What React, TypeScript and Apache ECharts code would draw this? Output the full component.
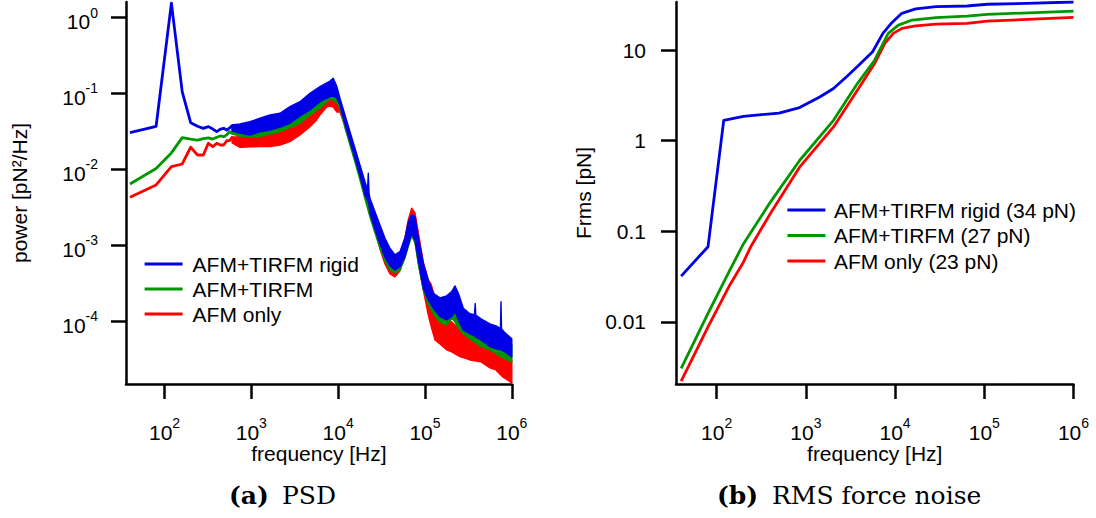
import { useEffect, useRef } from 'react';
import * as echarts from 'echarts';

// ---------- (a) power spectral density ----------
// Low-frequency bins (40 Hz spacing), drawn as plain lines
const PSD_LOW_FREQ = [40, 80, 120, 160, 200, 240, 280, 320, 360, 400, 440, 480, 520, 560, 600, 640];
const PSD_LOW_RIGID = [0.0305, 0.037, 1.55, 0.105, 0.0413, 0.037, 0.0348, 0.0366, 0.034, 0.0314, 0.034, 0.0348, 0.0331, 0.035, 0.0375, 0.0385];
const PSD_LOW_TIRFM = [0.00645, 0.0103, 0.0165, 0.0262, 0.0251, 0.0244, 0.0255, 0.026, 0.0251, 0.0265, 0.0276, 0.027, 0.0285, 0.0314, 0.03, 0.0294];
const PSD_LOW_AFM = [0.0043, 0.00625, 0.0109, 0.0118, 0.0196, 0.0155, 0.0155, 0.0221, 0.02, 0.0221, 0.021, 0.021, 0.0239, 0.0239, 0.0265, 0.025];

// Dense noisy part above ~600 Hz: upper / lower envelope of each spectrum
const PSD_BAND_RIGID_FREQ = [600, 740, 960, 1260, 1640, 2140, 2780, 3630, 4730, 6170, 8050, 8780, 9610, 10490, 11980, 13680, 15610, 17830, 20360, 21800, 22230, 22700, 23250, 26550, 30310, 34610, 39520, 45110, 51520, 58830, 64210, 70290, 76690, 83720, 95590, 109100, 124600, 148900, 177800, 203000, 221600, 241900, 276200, 329900, 372000, 378700, 385000, 441800, 560900, 657700, 740000, 750800, 761000, 835000, 1000000];
const PSD_BAND_RIGID_HIGH = [0.0385, 0.0397, 0.0425, 0.0472, 0.0522, 0.0549, 0.067, 0.078, 0.1006, 0.1229, 0.146, 0.1585, 0.1256, 0.0865, 0.0522, 0.0314, 0.019, 0.01146, 0.00691, 0.0054, 0.00891, 0.0048, 0.00418, 0.00278, 0.00186, 0.00124, 0.000919, 0.00075, 0.000829, 0.00126, 0.00204, 0.00252, 0.00239, 0.0013, 0.000583, 0.000352, 0.000235, 0.000204, 0.000217, 0.000247, 0.000293, 0.000237, 0.000149, 0.000126, 0.000123, 0.000172, 0.000121, 0.000108, 9.27e-5, 8.73e-5, 8.1e-5, 0.000182, 8.0e-5, 7.06e-5, 5.89e-5];
const PSD_BAND_RIGID_LOW = [0.0321, 0.0302, 0.0284, 0.0314, 0.0331, 0.0362, 0.0405, 0.0506, 0.0607, 0.078, 0.0908, 0.0927, 0.0873, 0.0706, 0.0397, 0.0237, 0.01417, 0.00831, 0.00462, 0.0039, 0.0037, 0.0034, 0.00268, 0.00163, 0.00105, 0.000706, 0.000537, 0.000476, 0.000526, 0.000712, 0.00102, 0.00145, 0.00118, 0.000645, 0.000276, 0.000192, 0.000149, 0.000116, 0.000105, 0.000116, 0.000135, 0.000105, 7.73e-5, 6.85e-5, 6.45e-5, 6.35e-5, 6.25e-5, 5.71e-5, 4.66e-5, 4.35e-5, 4.25e-5, 4.22e-5, 4.2e-5, 3.97e-5, 3.41e-5];

const PSD_BAND_TIRFM_FREQ = [600, 740, 960, 1260, 1640, 2140, 2780, 3630, 4730, 6170, 7370, 8050, 8780, 9610, 10490, 11980, 13680, 15610, 17830, 20360, 23250, 26550, 30310, 34610, 39520, 45110, 51520, 58830, 64210, 70290, 76690, 83720, 95590, 109100, 124600, 148900, 177800, 203000, 221600, 241900, 276200, 329900, 441800, 560900, 699000, 835000, 1000000];
const PSD_BAND_TIRFM_HIGH = [0.0341, 0.0341, 0.0352, 0.0374, 0.0409, 0.0448, 0.0522, 0.0607, 0.0773, 0.0985, 0.1079, 0.1112, 0.1146, 0.1015, 0.0821, 0.0491, 0.0293, 0.0175, 0.01046, 0.00625, 0.00385, 0.00252, 0.0017, 0.00115, 0.000847, 0.000706, 0.000773, 0.00115, 0.0018, 0.0023, 0.00217, 0.00118, 0.000537, 0.000321, 0.000217, 0.000181, 0.000175, 0.000192, 0.000204, 0.000165, 0.000111, 9.85e-5, 8.21e-5, 7.27e-5, 6.45e-5, 5.71e-5, 4.91e-5];
const PSD_BAND_TIRFM_LOW = [0.0293, 0.0276, 0.027, 0.027, 0.0293, 0.0314, 0.0352, 0.0405, 0.0522, 0.0639, 0.078, 0.0847, 0.0821, 0.075, 0.0645, 0.0352, 0.021, 0.01255, 0.00727, 0.00409, 0.00237, 0.00146, 0.000927, 0.000625, 0.000476, 0.000435, 0.000476, 0.000685, 0.000956, 0.00133, 0.00108, 0.000571, 0.00026, 0.00017, 0.000126, 9.64e-5, 8.99e-5, 0.00011, 9.85e-5, 8.21e-5, 6.85e-5, 5.89e-5, 4.66e-5, 4.22e-5, 3.62e-5, 3.21e-5, 2.93e-5];

const PSD_BAND_AFM_FREQ = [600, 740, 960, 1260, 1640, 2140, 2780, 3630, 4730, 5650, 6170, 7370, 8050, 8780, 9610, 10490, 11980, 13680, 15610, 17830, 20360, 23250, 26550, 30310, 34610, 39520, 45110, 51520, 58830, 64210, 70290, 76690, 83720, 95590, 109100, 117300, 130400, 148900, 177800, 203000, 221600, 253100, 329900, 441800, 560900, 656000, 787600, 1000000];
const PSD_BAND_AFM_HIGH = [0.0265, 0.027, 0.027, 0.0284, 0.0307, 0.0326, 0.0362, 0.0405, 0.0506, 0.0576, 0.0645, 0.0847, 0.0873, 0.0899, 0.0821, 0.0727, 0.0448, 0.0276, 0.0165, 0.00985, 0.00588, 0.00352, 0.00223, 0.00146, 0.000985, 0.000727, 0.000625, 0.000727, 0.00126, 0.00217, 0.00309, 0.00268, 0.0015, 0.000607, 0.000352, 0.000311, 0.00021, 0.000151, 0.000111, 9.85e-5, 8.99e-5, 7.73e-5, 6.45e-5, 5.37e-5, 4.62e-5, 4.22e-5, 3.62e-5, 3.11e-5];
const PSD_BAND_AFM_LOW = [0.0223, 0.0195, 0.0198, 0.02, 0.02, 0.021, 0.0232, 0.0284, 0.0366, 0.0448, 0.0522, 0.0664, 0.0685, 0.0664, 0.0571, 0.0571, 0.0374, 0.0223, 0.01334, 0.00796, 0.00462, 0.00268, 0.00155, 0.0009, 0.000571, 0.000422, 0.000385, 0.000462, 0.000727, 0.00111, 0.0015, 0.00118, 0.000588, 0.00026, 0.000122, 8.73e-5, 5.71e-5, 5.06e-5, 4.22e-5, 3.97e-5, 3.74e-5, 3.44e-5, 3.11e-5, 2.93e-5, 2.44e-5, 2.3e-5, 1.86e-5, 1.55e-5];

const PSD_FREQ_TICKS = [1e2, 1e3, 1e4, 1e5, 1e6];
const PSD_POWER_TICKS = [1e-4, 1e-3, 1e-2, 1e-1, 1];
const PSD_FREQ_RANGE = [36, 1e6];
const PSD_POWER_RANGE = [1.5e-5, 1.6];

// ---------- (b) cumulative RMS force noise ----------
const RMS_RIGID_FREQ = [40, 80, 120, 200, 500, 850, 1430, 2040, 2900, 4100, 5600, 7300, 9200, 11900, 17000, 28800, 64000, 108000, 300000, 1000000];
const RMS_RIGID = [0.032, 0.0676, 1.68, 1.86, 2.02, 2.32, 3.04, 3.77, 5.15, 7.11, 9.59, 15.3, 20.1, 25.5, 28.5, 30.2, 30.7, 32.1, 32.8, 34];
const RMS_TIRFM_FREQ = [40, 80, 140, 200, 400, 850, 2040, 3780, 5890, 8380, 10900, 15500, 28800, 64000, 108000, 1000000];
const RMS_TIRFM = [0.00306, 0.0124, 0.037, 0.073, 0.21, 0.605, 1.68, 4.27, 7.74, 15.3, 18.9, 21.5, 22.8, 23.8, 24.8, 27];
const RMS_AFM_FREQ = [40, 80, 140, 200, 240, 400, 850, 2040, 3780, 5890, 7670, 9550, 11940, 17000, 28800, 64000, 108000, 1000000];
const RMS_AFM = [0.00222, 0.0088, 0.0254, 0.0459, 0.067, 0.157, 0.51, 1.42, 3.6, 7.1, 11.9, 15.3, 17.4, 18.5, 19.4, 19.7, 20.9, 23];

const RMS_FREQ_TICKS = [1e2, 1e3, 1e4, 1e5, 1e6];
const RMS_FORCE_TICKS = [0.01, 0.1, 1, 10];
const RMS_FORCE_TICK_LABELS = ['0.01', '0.1', '1', '10'];
const RMS_FREQ_RANGE = [35, 1e6];
const RMS_FORCE_RANGE = [0.00206, 34];

const PSD_NAMES = ['AFM+TIRFM rigid', 'AFM+TIRFM', 'AFM only'];
const RMS_NAMES = ['AFM+TIRFM rigid (34 pN)', 'AFM+TIRFM (27 pN)', 'AFM only (23 pN)'];

const BLUE = '#0000e6';
const GREEN = '#009600';
const RED = '#ff0000';
const FONT = '"Liberation Sans", Arial, sans-serif';
const SERIF = '"DejaVu Serif", serif';

const lg = Math.log10;
const toLogPairs = (freq: number[], vals: number[]) => freq.map((f, i) => [lg(f), lg(vals[i])]);

const lineSeries = (name: string, freq: number[], vals: number[], color: string, axis: number, z: number) => ({
  type: 'line',
  name,
  xAxisIndex: axis,
  yAxisIndex: axis,
  z,
  data: toLogPairs(freq, vals),
  symbol: 'none',
  showSymbol: false,
  silent: true,
  lineStyle: { color, width: 2.8, join: 'round' },
  itemStyle: { color },
  emphasis: { disabled: true },
});

// Filled envelope between the upper and lower traces of a dense spectrum
const bandSeries = (name: string, freq: number[], high: number[], low: number[], color: string, z: number) => ({
  type: 'custom',
  name,
  xAxisIndex: 0,
  yAxisIndex: 0,
  z,
  silent: true,
  data: [[lg(freq[0]), lg(high[0])]],
  renderItem: (_params: any, api: any) => {
    const top = freq.map((f, i) => api.coord([lg(f), lg(high[i])]));
    const bottom = freq.map((f, i) => api.coord([lg(f), lg(low[i])])).reverse();
    return {
      type: 'polygon',
      shape: { points: top.concat(bottom) },
      style: { fill: color, stroke: color, lineWidth: 1.4, lineJoin: 'round' },
    };
  },
});

const axisLineStyle = { show: true, onZero: false, lineStyle: { color: '#000', width: 2.5 } };
const tickStyle = (values: number[]) => ({
  show: true,
  inside: false,
  length: 15,
  lineStyle: { color: '#000', width: 2.5 },
  customValues: values,
});
const powRich = {
  b: { fontSize: 21, lineHeight: 32, fontFamily: FONT, color: '#000' },
  s: { fontSize: 14, lineHeight: 14, verticalAlign: 'top', fontFamily: FONT, color: '#000' },
};
const powFormatter = (v: number) => `{b|10}{s|${Math.round(v)}}`;
const nameStyle = { fontSize: 21, color: '#000', fontFamily: FONT };

const legendBase = {
  orient: 'vertical',
  icon: 'rect',
  itemWidth: 38,
  itemHeight: 3,
  padding: 0,
  selectedMode: false,
};

const option = {
  animation: false,
  backgroundColor: '#fff',
  textStyle: { fontFamily: FONT, color: '#000' },
  grid: [
    { left: 126, top: 2, width: 385.8, height: 382, outerBoundsMode: 'none', containLabel: false },
    { left: 676, top: 2, width: 397.5, height: 382, outerBoundsMode: 'none', containLabel: false },
  ],
  xAxis: [
    {
      gridIndex: 0,
      type: 'value',
      min: lg(PSD_FREQ_RANGE[0]),
      max: lg(PSD_FREQ_RANGE[1]),
      axisLine: axisLineStyle,
      axisTick: tickStyle(PSD_FREQ_TICKS.map(lg)),
      axisLabel: { customValues: PSD_FREQ_TICKS.map(lg), formatter: powFormatter, rich: powRich, margin: 32 },
      splitLine: { show: false },
      name: 'frequency [Hz]',
      nameLocation: 'middle',
      nameGap: 59,
      nameMoveOverlap: false,
      nameTextStyle: nameStyle,
    },
    {
      gridIndex: 1,
      type: 'value',
      min: lg(RMS_FREQ_RANGE[0]),
      max: lg(RMS_FREQ_RANGE[1]),
      axisLine: axisLineStyle,
      axisTick: tickStyle(RMS_FREQ_TICKS.map(lg)),
      axisLabel: { customValues: RMS_FREQ_TICKS.map(lg), formatter: powFormatter, rich: powRich, margin: 32 },
      splitLine: { show: false },
      name: 'frequency [Hz]',
      nameLocation: 'middle',
      nameGap: 59,
      nameMoveOverlap: false,
      nameTextStyle: nameStyle,
    },
  ],
  yAxis: [
    {
      gridIndex: 0,
      type: 'value',
      min: lg(PSD_POWER_RANGE[0]),
      max: lg(PSD_POWER_RANGE[1]),
      axisLine: axisLineStyle,
      axisTick: tickStyle(PSD_POWER_TICKS.map(lg)),
      axisLabel: {
        customValues: PSD_POWER_TICKS.map(lg),
        formatter: powFormatter,
        rich: powRich,
        margin: 28,
        padding: [8, 0, 0, 0],
      },
      splitLine: { show: false },
      name: 'power [pN²/Hz]',
      nameLocation: 'middle',
      nameGap: 96,
      nameMoveOverlap: false,
      nameTextStyle: nameStyle,
    },
    {
      gridIndex: 1,
      type: 'value',
      min: lg(RMS_FORCE_RANGE[0]),
      max: lg(RMS_FORCE_RANGE[1]),
      axisLine: axisLineStyle,
      axisTick: tickStyle(RMS_FORCE_TICKS.map(lg)),
      axisLabel: {
        customValues: RMS_FORCE_TICKS.map(lg),
        formatter: (v: number) => {
          let best = 0;
          RMS_FORCE_TICKS.forEach((t, i) => {
            if (Math.abs(lg(t) - v) < Math.abs(lg(RMS_FORCE_TICKS[best]) - v)) best = i;
          });
          return RMS_FORCE_TICK_LABELS[best];
        },
        fontSize: 21,
        color: '#000',
        fontFamily: FONT,
        margin: 30,
      },
      splitLine: { show: false },
      name: 'Frms [pN]',
      nameLocation: 'middle',
      nameGap: 82,
      nameMoveOverlap: false,
      nameTextStyle: nameStyle,
    },
  ],
  legend: [
    {
      ...legendBase,
      left: 144.6,
      top: 253.5,
      itemGap: 4,
      data: [
        { name: PSD_NAMES[0], itemStyle: { color: BLUE } },
        { name: PSD_NAMES[1], itemStyle: { color: GREEN } },
        { name: PSD_NAMES[2], itemStyle: { color: RED } },
      ],
      textStyle: { fontSize: 21, lineHeight: 21, color: '#000', fontFamily: FONT, padding: [0, 0, 0, 5] },
    },
    {
      ...legendBase,
      left: 787.4,
      top: 199.5,
      itemGap: 4.5,
      data: [
        { name: RMS_NAMES[0], itemStyle: { color: BLUE } },
        { name: RMS_NAMES[1], itemStyle: { color: GREEN } },
        { name: RMS_NAMES[2], itemStyle: { color: RED } },
      ],
      textStyle: { fontSize: 21, lineHeight: 21, color: '#000', fontFamily: FONT, padding: [0, 0, 0, 3.5] },
    },
  ],
  series: [
    lineSeries(PSD_NAMES[2], PSD_LOW_FREQ, PSD_LOW_AFM, RED, 0, 2),
    bandSeries('AFM only spectrum', PSD_BAND_AFM_FREQ, PSD_BAND_AFM_HIGH, PSD_BAND_AFM_LOW, RED, 2),
    lineSeries(PSD_NAMES[1], PSD_LOW_FREQ, PSD_LOW_TIRFM, GREEN, 0, 3),
    bandSeries('AFM+TIRFM spectrum', PSD_BAND_TIRFM_FREQ, PSD_BAND_TIRFM_HIGH, PSD_BAND_TIRFM_LOW, GREEN, 3),
    lineSeries(PSD_NAMES[0], PSD_LOW_FREQ, PSD_LOW_RIGID, BLUE, 0, 4),
    bandSeries('AFM+TIRFM rigid spectrum', PSD_BAND_RIGID_FREQ, PSD_BAND_RIGID_HIGH, PSD_BAND_RIGID_LOW, BLUE, 4),
    lineSeries(RMS_NAMES[2], RMS_AFM_FREQ, RMS_AFM, RED, 1, 2),
    lineSeries(RMS_NAMES[1], RMS_TIRFM_FREQ, RMS_TIRFM, GREEN, 1, 3),
    lineSeries(RMS_NAMES[0], RMS_RIGID_FREQ, RMS_RIGID, BLUE, 1, 4),
  ],
  graphic: [
    { type: 'text', x: 229, y: 495, style: { text: '(a)', fontSize: 25, fontWeight: 'bold', fontFamily: SERIF, fill: '#000', verticalAlign: 'middle', align: 'left' } },
    { type: 'text', x: 282, y: 495, style: { text: 'PSD', fontSize: 25, fontFamily: SERIF, fill: '#000', verticalAlign: 'middle', align: 'left' } },
    { type: 'text', x: 717, y: 495, style: { text: '(b)', fontSize: 25, fontWeight: 'bold', fontFamily: SERIF, fill: '#000', verticalAlign: 'middle', align: 'left' } },
    { type: 'text', x: 772, y: 495, style: { text: 'RMS force noise', fontSize: 25, fontFamily: SERIF, fill: '#000', verticalAlign: 'middle', align: 'left' } },
  ],
};

export default function App() {
  const ref = useRef<HTMLDivElement>(null);
  useEffect(() => {
    if (!ref.current) return;
    const chart = echarts.init(ref.current, undefined, { renderer: 'svg' });
    chart.setOption(option as any);
    return () => chart.dispose();
  }, []);
  return (
    <div
      ref={ref}
      style={{ position: 'absolute', left: 0, top: 0, width: 1096, height: 518, background: '#fff' }}
    />
  );
}
